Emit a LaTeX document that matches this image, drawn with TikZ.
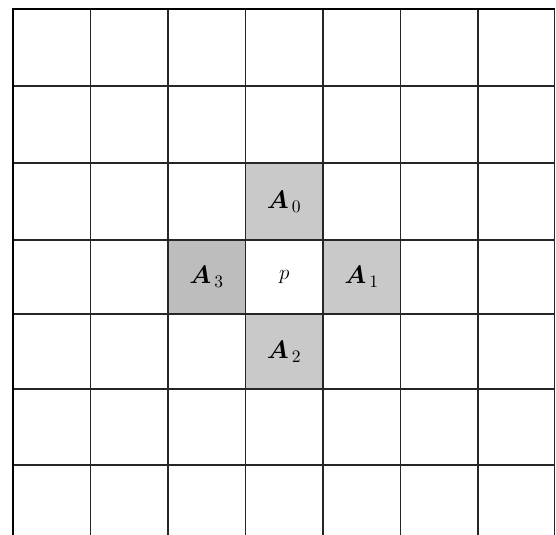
\documentclass[tikz,border=0pt]{standalone}
\usepackage{bm}
\usetikzlibrary{positioning}
\begin{document}
\begin{tikzpicture}[x=0.02cm, y=-0.02cm,
  cell/.style={fill=gray!42, draw=none, inner sep=0pt,
               minimum width=1.55cm, minimum height=1.5cm, font=\Large},
  gridline/.style={line width=0.8pt, black!85},
  border/.style={line width=1.6pt, black},
]
\useasboundingbox (0,0) rectangle (556,535);
% shaded neighbours and centre cell
\node[cell, minimum height=1.54cm] (a0) at (284.25,201.5) {$\bm{A}_{\,0}$};
\node[cell, fill=white, minimum height=1.48cm, font=\large] (p) at (284.25,277) {$p$};
\node[cell, minimum height=1.48cm] (a1) at (361.75,277) {$\bm{A}_{\,1}$};
\node[cell, minimum height=1.5cm] (a2) at (284.25,351.5) {$\bm{A}_{\,2}$};
\node[cell, fill=gray!52, minimum height=1.48cm] (a3) at (206.75,277) {$\bm{A}_{\,3}$};
% grid
\foreach \x in {90.5,168,245.5,323,400.5,478,554.5}
  \draw[gridline] (\x,9) -- (\x,535);
\foreach \y in {86,163,240,314,389,465}
  \draw[gridline] (13,\y) -- (555,\y);
\draw[border] (13,535) -- (13,9) -- (555,9);
\end{tikzpicture}
\end{document}
